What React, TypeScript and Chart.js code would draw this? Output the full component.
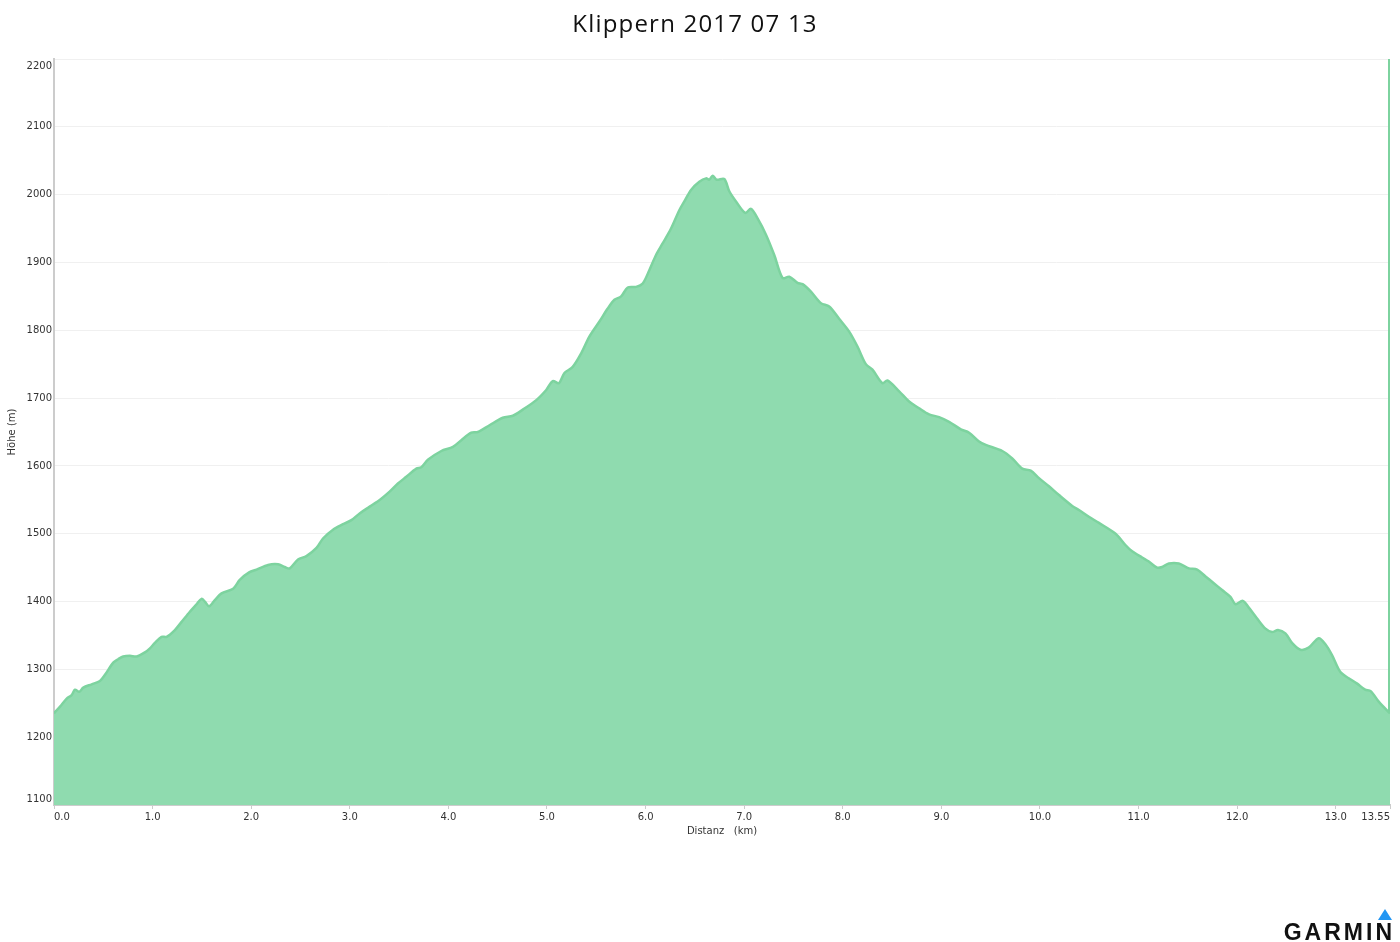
import React, { useEffect, useRef } from "react";
import { Chart, registerables } from "chart.js";

Chart.register(...registerables);

const chartTitle = "Klippern 2017 07 13";
const xAxisTitle = "Distanz   (km)";
const yAxisTitle = "Höhe (m)";
const brandText = "GARMIN";

const distanceKm = [
  0.0, 0.01, 0.061, 0.129, 0.179, 0.213, 0.256, 0.297, 0.382, 0.466, 0.517, 0.601, 0.651, 0.702, 0.77,
  0.838, 0.922, 0.973, 1.023, 1.091, 1.142, 1.226, 1.294, 1.378, 1.446, 1.496, 1.53, 1.573, 1.631, 1.699,
  1.817, 1.884, 1.979, 2.054, 2.171, 2.273, 2.34, 2.391, 2.475, 2.56, 2.662, 2.728, 2.83, 2.931, 3.016,
  3.1, 3.202, 3.313, 3.404, 3.488, 3.573, 3.675, 3.725, 3.792, 3.928, 4.046, 4.131, 4.232, 4.299, 4.417,
  4.552, 4.654, 4.755, 4.891, 4.992, 5.059, 5.12, 5.177, 5.261, 5.347, 5.431, 5.532, 5.616, 5.684, 5.752,
  5.819, 5.904, 5.971, 6.039, 6.106, 6.173, 6.258, 6.342, 6.393, 6.461, 6.545, 6.613, 6.646, 6.68, 6.72,
  6.798, 6.849, 6.917, 7.011, 7.069, 7.136, 7.221, 7.305, 7.389, 7.457, 7.541, 7.592, 7.677, 7.778, 7.862,
  7.963, 8.065, 8.149, 8.234, 8.301, 8.402, 8.453, 8.572, 8.673, 8.774, 8.875, 8.977, 9.078, 9.197, 9.281,
  9.382, 9.45, 9.618, 9.719, 9.82, 9.906, 9.99, 10.091, 10.193, 10.327, 10.395, 10.496, 10.598, 10.767,
  10.869, 10.935, 11.036, 11.104, 11.188, 11.239, 11.307, 11.408, 11.51, 11.594, 11.679, 11.763, 11.847,
  11.932, 11.983, 12.057, 12.118, 12.202, 12.287, 12.354, 12.414, 12.489, 12.556, 12.641, 12.725, 12.827,
  12.895, 12.962, 13.047, 13.131, 13.217, 13.298, 13.354, 13.438, 13.55,
];

const elevationM = [
  1235, 1237, 1245, 1257, 1262, 1270, 1267, 1273, 1278, 1283, 1292, 1310, 1315, 1319, 1320,
  1319, 1325, 1331, 1339, 1348, 1348, 1358, 1370, 1385, 1396, 1404, 1400, 1393, 1402, 1412,
  1419, 1432, 1443, 1447, 1454, 1455, 1451, 1449, 1462, 1467, 1479, 1493, 1506, 1514, 1520,
  1530, 1540, 1551, 1562, 1574, 1584, 1596, 1598, 1609, 1622, 1628, 1638, 1649, 1650, 1660,
  1671, 1674, 1683, 1697, 1712, 1725, 1722, 1737, 1746, 1766, 1791, 1813, 1832, 1845, 1850,
  1863, 1864, 1869, 1889, 1911, 1928, 1950, 1977, 1990, 2007, 2019, 2024, 2022, 2028, 2022,
  2023, 2005, 1990, 1973, 1979, 1965, 1941, 1911, 1877, 1879, 1870, 1868, 1857, 1840, 1835,
  1817, 1798, 1776, 1750, 1742, 1722, 1726, 1710, 1695, 1685, 1676, 1672, 1665, 1654, 1649,
  1636, 1631, 1622, 1611, 1596, 1593, 1582, 1570, 1557, 1541, 1535, 1525, 1516, 1500,
  1483, 1474, 1465, 1459, 1450, 1451, 1456, 1456, 1449, 1447, 1437, 1427, 1417,
  1407, 1396, 1401, 1391, 1375, 1360, 1355, 1358, 1353, 1339, 1329, 1332, 1346,
  1337, 1321, 1296, 1287, 1279, 1270, 1268, 1252, 1235,
];

const xTickValues = [0, 1, 2, 3, 4, 5, 6, 7, 8, 9, 10, 11, 12, 13, 13.55];
const yTickValues = [1100, 1200, 1300, 1400, 1500, 1600, 1700, 1800, 1900, 2000, 2100, 2200];
const endMarkerKm = [13.55];

const FILL = "#8fdbaf";
const LINE = "#7dd39f";
const TICK_FONT = "DejaVu Sans";

export default function App() {
  const ref = useRef<HTMLCanvasElement | null>(null);

  useEffect(() => {
    const canvas = ref.current;
    if (!canvas) return;

    const xMin = xTickValues[0];
    const xMax = xTickValues[xTickValues.length - 1];
    const yMin = yTickValues[0];
    const yMax = yTickValues[yTickValues.length - 1];

    const yLabelPlugin = {
      id: "yLabels",
      afterDraw(chart: any) {
        const ctx = chart.ctx;
        const ys = chart.scales.y;
        ctx.save();
        ctx.font = `10px "${TICK_FONT}"`;
        ctx.fillStyle = "#333";
        ctx.textAlign = "right";
        const last = yTickValues.length - 1;
        yTickValues.forEach((v, i) => {
          const py = ys.getPixelForValue(v);
          ctx.textBaseline = i === 0 ? "bottom" : i === last ? "top" : "middle";
          const dy = i === 0 ? -1 : i === last ? 2 : 0;
          ctx.fillText(String(v), ys.right - 2, py + dy);
        });
        ctx.restore();
      },
    };

    const titlePlugin = {
      id: "customTitle",
      afterDraw(chart: any) {
        const ctx = chart.ctx;
        ctx.save();
        ctx.font = `24px "Open Sans"`;
        ctx.fillStyle = "#111";
        ctx.textAlign = "center";
        ctx.textBaseline = "alphabetic";
        (ctx as any).letterSpacing = "1.2px";
        ctx.fillText(chartTitle, 695, 32);
        ctx.restore();
      },
    };

    const brandPlugin = {
      id: "brand",
      afterDraw(chart: any) {
        const ctx = chart.ctx;
        ctx.save();
        ctx.font = `bold 23px "Liberation Sans"`;
        ctx.fillStyle = "#111";
        ctx.textAlign = "right";
        ctx.textBaseline = "alphabetic";
        (ctx as any).letterSpacing = "3px";
        ctx.fillText(brandText, 1395, 940);
        ctx.fillStyle = "#2196f3";
        ctx.beginPath();
        ctx.moveTo(1378, 920);
        ctx.lineTo(1392, 920);
        ctx.lineTo(1385, 909);
        ctx.closePath();
        ctx.fill();
        ctx.restore();
      },
    };

    const chart = new Chart(canvas, {
      type: "line",
      data: {
        datasets: [
          {
            data: distanceKm.map((d, i) => ({ x: d, y: elevationM[i] })),
            borderColor: LINE,
            backgroundColor: FILL,
            borderWidth: 2.5,
            fill: "start",
            pointRadius: 0,
            tension: 0.3,
          },
          {
            data: [
              { x: endMarkerKm[0], y: yMin },
              { x: endMarkerKm[0], y: yMax },
            ],
            borderColor: LINE,
            borderWidth: 4,
            fill: false,
            pointRadius: 0,
          },
        ],
      },
      options: {
        responsive: false,
        animation: false,
        layout: { padding: { left: 0, right: 10, top: 59, bottom: 101 } },
        plugins: {
          legend: { display: false },
          tooltip: { enabled: false },
          title: { display: false },
        },
        scales: {
          x: {
            type: "linear",
            min: xMin,
            max: xMax,
            afterBuildTicks: (scale: any) => {
              scale.ticks = xTickValues.map((v) => ({ value: v }));
            },
            afterFit: (scale: any) => {
              scale.height = 36;
            },
            ticks: {
              align: "inner",
              color: "#333",
              font: { family: TICK_FONT, size: 10 },
              padding: 2,
              maxRotation: 0,
              autoSkip: false,
              callback: (v: any) => (Number.isInteger(v) ? Number(v).toFixed(1) : String(v)),
            },
            grid: {
              drawOnChartArea: false,
              drawTicks: true,
              tickLength: 4,
              color: "#ccc",
            },
            border: { display: true, color: "#ccc", width: 2 },
            title: {
              display: true,
              text: xAxisTitle,
              color: "#333",
              font: { family: TICK_FONT, size: 10 },
              padding: { top: 0, bottom: 4 },
            },
          },
          y: {
            type: "linear",
            min: yMin,
            max: yMax,
            afterBuildTicks: (scale: any) => {
              scale.ticks = yTickValues.map((v) => ({ value: v }));
            },
            afterFit: (scale: any) => {
              scale.width = 54;
            },
            ticks: { display: false },
            grid: { color: "#f0f0f0", lineWidth: 1, drawTicks: false },
            border: { display: true, color: "#ccc", width: 2 },
            title: {
              display: true,
              text: yAxisTitle,
              color: "#333",
              font: { family: TICK_FONT, size: 10 },
              padding: { top: 6, bottom: 0 },
            },
          },
        },
      },
      plugins: [yLabelPlugin, titlePlugin, brandPlugin],
    } as any);

    return () => chart.destroy();
  }, []);

  return (
    <div style={{ position: "fixed", left: 0, top: 0, width: 1400, height: 942, background: "#fff" }}>
      <canvas ref={ref} width={1400} height={942} style={{ display: "block" }} />
    </div>
  );
}
